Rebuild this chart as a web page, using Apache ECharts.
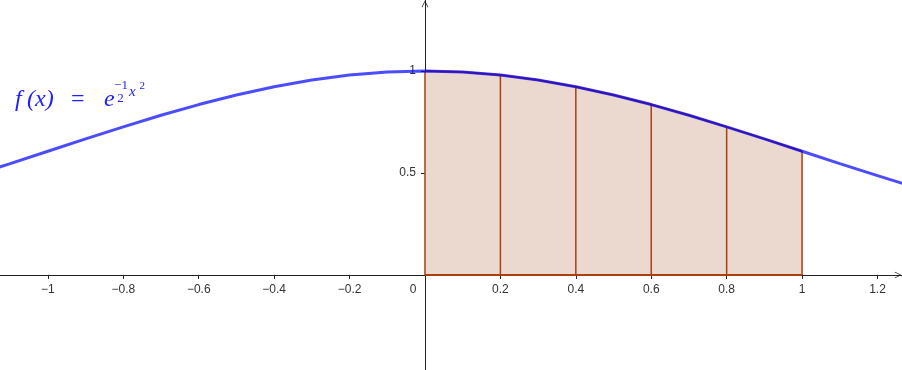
<!DOCTYPE html>
<html>
<head>
<meta charset="utf-8">
<script src="https://cdn.jsdelivr.net/npm/echarts@6/dist/echarts.min.js"></script>
<style>
html, body { margin: 0; padding: 0; background: #fff; }
#main { width: 902px; height: 370px; }
</style>
</head>
<body>
<div id="main"></div>
<script>
// f(x) = e^(-x^2/2)
var curveX = [-1.2, -1.1, -1.0, -0.9, -0.8, -0.7, -0.6, -0.5, -0.4, -0.3, -0.2, -0.1, 0,
	0.1, 0.2, 0.3, 0.4, 0.5, 0.6, 0.7, 0.8, 0.9, 1.0, 1.1, 1.2, 1.3];
var curveY = [0.4868, 0.5461, 0.6065, 0.6670, 0.7261, 0.7827, 0.8353, 0.8825, 0.9231, 0.9560, 0.9802, 0.9950, 1,
	0.9950, 0.9802, 0.9560, 0.9231, 0.8825, 0.8353, 0.7827, 0.7261, 0.6670, 0.6065, 0.5461, 0.4868, 0.4296];
// strip edges of the shaded region
var stripX = [0, 0.2, 0.4, 0.6, 0.8, 1];
var stripY = [1, 0.9802, 0.9231, 0.8353, 0.7261, 0.6065];
var xTicks = [-1, -0.8, -0.6, -0.4, -0.2, 0, 0.2, 0.4, 0.6, 0.8, 1, 1.2];
var yTicks = [0.5, 1];

var X_MIN = -1.127, X_MAX = 1.265;
var Y_MIN = -0.466, Y_MAX = 1.348;
var W = 902, H = 370;

var brown = '#a8400f';
var axisColor = '#222';
var labelColor = '#333';
var blue = '#2020ff';
var chevron = 'path://M-5,10 L0,0 L5,10 L4.2,10.6 L0,2.4 L-4.2,10.6 Z';

var curveData = [];
var areaData = [];
for (var i = 0; i < curveX.length; i++) {
	curveData.push([curveX[i], curveY[i]]);
	if (curveX[i] > -1e-9 && curveX[i] < 1 + 1e-9) areaData.push([curveX[i], curveY[i]]);
}

// 标签轴偏移到零点
var xLabelOffset = -H * (0 - Y_MIN) / (Y_MAX - Y_MIN);
var yLabelOffset = -W * (0 - X_MIN) / (X_MAX - X_MIN);

var series = [];
// 阴影区域
series.push({
	type: 'line',
	data: areaData,
	symbol: 'none',
	silent: true,
	lineStyle: { color: brown, width: 2 },
	areaStyle: { color: '#ebd9d0', opacity: 1 },
	z: 2
});
// 竖线
for (var j = 0; j < stripX.length; j++) {
	series.push({
		type: 'line',
		data: [[stripX[j], 0], [stripX[j], stripY[j]]],
		symbol: 'none',
		silent: true,
		lineStyle: { color: brown, width: 1.5 },
		z: 3
	});
}
series.push({
	type: 'line',
	data: [[stripX[0], 0], [stripX[stripX.length - 1], 0]],
	symbol: 'none',
	silent: true,
	lineStyle: { color: brown, width: 2 },
	z: 3
});
// 曲线
series.push({
	type: 'line',
	data: curveData,
	symbol: 'none',
	silent: true,
	lineStyle: { color: '#0000ff', opacity: 0.7, width: 3 },
	z: 4
});

var myChart = echarts.init(document.getElementById('main'));
var option = {
	backgroundColor: '#fff',
	animation: false,
	grid: { left: 0, right: 0, top: 0, bottom: 0, containLabel: false, outerBoundsMode: 'none' },
	xAxis: [{
		type: 'value',
		min: X_MIN,
		max: X_MAX,
		splitLine: { show: false },
		axisLine: {
			onZero: true,
			lineStyle: { color: axisColor, width: 1 },
			symbol: ['none', chevron],
			symbolSize: [10, 7],
			symbolOffset: [0, -4]
		},
		axisTick: { show: true, customValues: xTicks, length: 4, lineStyle: { color: axisColor } },
		axisLabel: { show: false }
	}, {
		// 仅用于刻度文字
		type: 'value',
		position: 'bottom',
		offset: xLabelOffset,
		min: X_MIN,
		max: X_MAX,
		splitLine: { show: false },
		axisLine: { show: false },
		axisTick: { show: false },
		axisLabel: {
			customValues: xTicks,
			margin: 9,
			color: labelColor,
			fontFamily: 'Liberation Sans',
			fontSize: 12,
			formatter: function(v) {
				if (Math.abs(v) < 1e-9) return '{z|0}';
				return String(v).replace('-', '\u2212');
			},
			rich: {
				z: { padding: [0, 24, 0, 0], color: labelColor, fontFamily: 'Liberation Sans', fontSize: 12 }
			}
		}
	}],
	yAxis: [{
		type: 'value',
		min: Y_MIN,
		max: Y_MAX,
		splitLine: { show: false },
		axisLine: {
			onZero: true,
			lineStyle: { color: axisColor, width: 1 },
			symbol: ['none', chevron],
			symbolSize: [10, 7],
			symbolOffset: [0, -4]
		},
		axisTick: { show: true, customValues: yTicks, length: 4, lineStyle: { color: axisColor } },
		axisLabel: { show: false }
	}, {
		type: 'value',
		position: 'left',
		offset: yLabelOffset,
		min: Y_MIN,
		max: Y_MAX,
		splitLine: { show: false },
		axisLine: { show: false },
		axisTick: { show: false },
		axisLabel: {
			customValues: yTicks,
			margin: 9,
			color: labelColor,
			fontFamily: 'Liberation Sans',
			fontSize: 12
		}
	}],
	graphic: [
		{ type: 'text', x: 15, y: 100, silent: true,
			style: { text: 'f', fill: blue, font: 'italic 24px "Liberation Serif"', textVerticalAlign: 'middle' } },
		{ type: 'text', x: 27, y: 100, silent: true,
			style: { text: '(x)', fill: blue, font: 'italic 24px "Liberation Serif"', textVerticalAlign: 'middle' } },
		{ type: 'text', x: 71, y: 100, silent: true,
			style: { text: '=', fill: blue, font: '24px "Liberation Serif"', textVerticalAlign: 'middle' } },
		{ type: 'text', x: 104, y: 100, silent: true,
			style: { text: 'e', fill: blue, font: 'italic 24px "Liberation Serif"', textVerticalAlign: 'middle' } },
		{ type: 'text', x: 121, y: 85.6, silent: true,
			style: { text: '\u22121', fill: blue, font: '13px "Liberation Serif"', textAlign: 'center', textVerticalAlign: 'middle' } },
		{ type: 'text', x: 120.5, y: 98.6, silent: true,
			style: { text: '2', fill: blue, font: '13px "Liberation Serif"', textAlign: 'center', textVerticalAlign: 'middle' } },
		{ type: 'text', x: 129, y: 91.9, silent: true,
			style: { text: 'x', fill: blue, font: 'italic 15px "Liberation Serif"', textVerticalAlign: 'middle' } },
		{ type: 'text', x: 139.5, y: 86.3, silent: true,
			style: { text: '2', fill: blue, font: '11px "Liberation Serif"', textVerticalAlign: 'middle' } }
	],
	series: series
};
myChart.setOption(option);
</script>
</body>
</html>
